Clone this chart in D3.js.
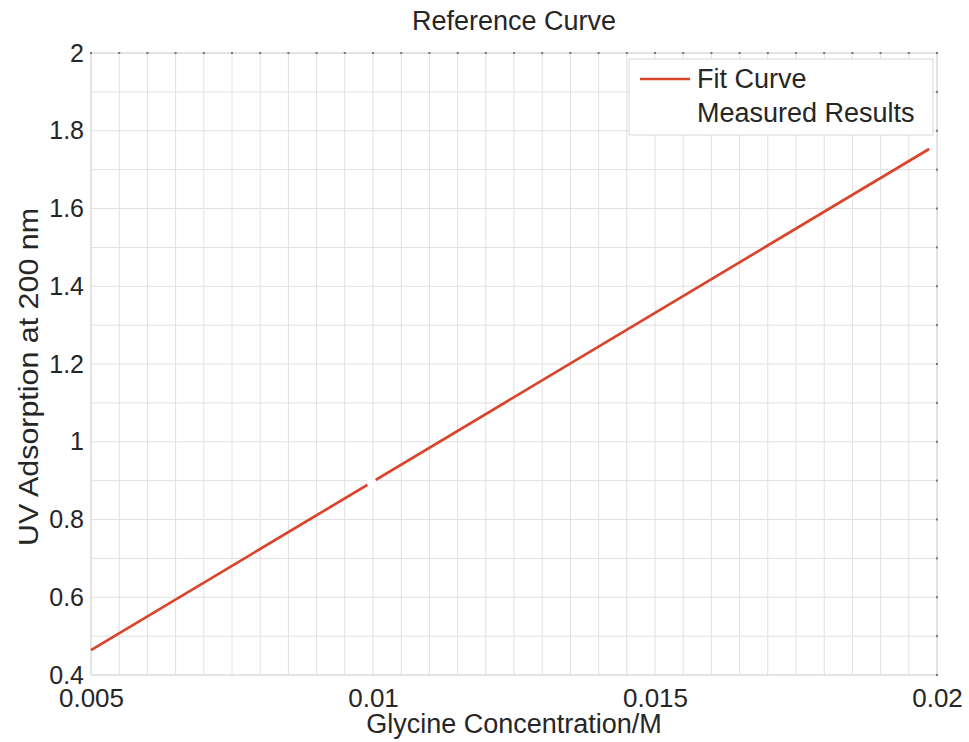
<!DOCTYPE html>
<html>
<head>
<meta charset="utf-8">
<script src="https://cdn.jsdelivr.net/npm/d3@7"></script>
<style>
  body { margin: 0; background: #fff; }
  text { font-family: "Liberation Sans", Arial, sans-serif; fill: #262626; }
</style>
</head>
<body>
<div id="canvas"></div>
<script>
// values
const fitX = [0.005, 0.01986];
const fitY = [0.464, 1.753];
const measuredX = [0.00998];
const measuredY = [0.894];
const xTicks = [0.005, 0.01, 0.015, 0.02];
const xTickLabels = ["0.005", "0.01", "0.015", "0.02"];
const yTicks = [0.4, 0.6, 0.8, 1, 1.2, 1.4, 1.6, 1.8, 2];
const yTickLabels = ["0.4", "0.6", "0.8", "1", "1.2", "1.4", "1.6", "1.8", "2"];
const legendLabels = ["Fit Curve", "Measured Results"];

const width = 969;
const height = 742;
const margin = { top: 53, left: 91, bottom: 67, right: 32 };
const iwidth = width - margin.left - margin.right;
const iheight = height - margin.top - margin.bottom;
const fontSize = 25;
const lineColor = "#d9442b";

const svg = d3.select("#canvas").append("svg")
  .attr("width", width)
  .attr("height", height);

const g = svg.append("g").attr("transform", `translate(${margin.left},${margin.top})`);

const x = d3.scaleLinear().domain([0.005, 0.02]).range([0, iwidth]);
const y = d3.scaleLinear().domain([0.4, 2]).range([iheight, 0]);

// grid (minor spacing: 0.0005 in x, 0.1 in y)
const xGrid = d3.range(0, 31).map(i => 0.005 + i * 0.0005);
const yGrid = d3.range(0, 17).map(i => 0.4 + i * 0.1);

g.append("g").selectAll("line")
  .data(xGrid)
  .enter().append("line")
  .attr("x1", d => x(d)).attr("x2", d => x(d))
  .attr("y1", 0).attr("y2", iheight)
  .attr("stroke", "#e0e0e0")
  .attr("stroke-width", 1);

g.append("g").selectAll("line")
  .data(yGrid)
  .enter().append("line")
  .attr("x1", 0).attr("x2", iwidth)
  .attr("y1", d => y(d)).attr("y2", d => y(d))
  .attr("stroke", "#e0e0e0")
  .attr("stroke-width", 1);

// faint axes box
g.append("rect")
  .attr("width", iwidth).attr("height", iheight)
  .attr("fill", "none")
  .attr("stroke", "#d8d8d8");

// small tick dots on top and right edges
g.append("g").selectAll("rect")
  .data(xGrid)
  .enter().append("rect")
  .attr("x", d => x(d) - 1).attr("y", -1)
  .attr("width", 2).attr("height", 2)
  .attr("fill", "#777");

g.append("g").selectAll("rect")
  .data(yGrid)
  .enter().append("rect")
  .attr("x", iwidth - 1).attr("y", d => y(d) - 1)
  .attr("width", 2).attr("height", 2)
  .attr("fill", "#777");

// x axis
const xAxis = g.append("g")
  .attr("class", "axis axis--x")
  .attr("transform", `translate(0,${iheight})`)
  .call(d3.axisBottom(x).tickValues(xTicks).tickSize(0).tickPadding(14)
    .tickFormat((d, i) => xTickLabels[i]));
xAxis.select(".domain").remove();
xAxis.selectAll("text").attr("font-size", 26).style("font-family", "Liberation Sans, Arial, sans-serif");

// y axis
const yAxis = g.append("g")
  .attr("class", "axis axis--y")
  .call(d3.axisLeft(y).tickValues(yTicks).tickSize(0).tickPadding(7)
    .tickFormat((d, i) => yTickLabels[i]));
yAxis.select(".domain").remove();
yAxis.selectAll("text").attr("font-size", fontSize).style("font-family", "Liberation Sans, Arial, sans-serif");

// fit curve
const fitData = fitX.map((v, i) => ({ x: v, y: fitY[i] }));
g.append("path")
  .datum(fitData)
  .attr("fill", "none")
  .attr("stroke", lineColor)
  .attr("stroke-width", 2.7)
  .attr("d", d3.line().x(d => x(d.x)).y(d => y(d.y)));

// measured results (white markers)
const measData = measuredX.map((v, i) => ({ x: v, y: measuredY[i] }));
g.append("g").selectAll("circle")
  .data(measData)
  .enter().append("circle")
  .attr("cx", d => x(d.x)).attr("cy", d => y(d.y))
  .attr("r", 5)
  .attr("fill", "#fff");

// title and axis labels
svg.append("text")
  .attr("x", margin.left + iwidth / 2)
  .attr("y", 30)
  .attr("text-anchor", "middle")
  .attr("font-size", 27)
  .text("Reference Curve");

svg.append("text")
  .attr("x", margin.left + iwidth / 2)
  .attr("y", 733)
  .attr("text-anchor", "middle")
  .attr("font-size", 27)
  .text("Glycine Concentration/M");

svg.append("text")
  .attr("transform", `translate(38,377) rotate(-90)`)
  .attr("text-anchor", "middle")
  .attr("font-size", 28)
  .attr("textLength", 338)
  .attr("lengthAdjust", "spacingAndGlyphs")
  .text("UV Adsorption at 200 nm");

// legend
const legend = svg.append("g").attr("transform", "translate(629,59)");
legend.append("rect")
  .attr("width", 304).attr("height", 76)
  .attr("fill", "#fff")
  .attr("stroke", "#d8d8d8");
legend.append("line")
  .attr("x1", 11).attr("x2", 61)
  .attr("y1", 20).attr("y2", 20)
  .attr("stroke", lineColor)
  .attr("stroke-width", 2.7);
legend.selectAll("text.lg")
  .data(legendLabels)
  .enter().append("text")
  .attr("class", "lg")
  .attr("x", 68)
  .attr("y", (d, i) => 29 + i * 34)
  .attr("font-size", 27)
  .text(d => d);
</script>
</body>
</html>
